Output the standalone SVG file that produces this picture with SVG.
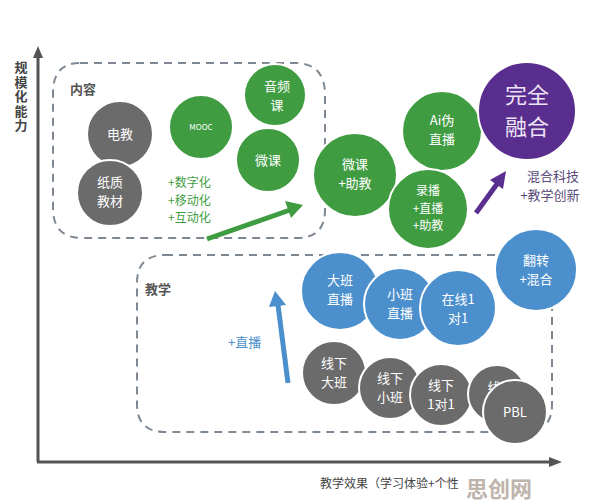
<svg xmlns="http://www.w3.org/2000/svg" width="596" height="504" viewBox="0 0 596 504">
<defs>
<style>
text{font-family:"Noto Sans CJK SC","Liberation Sans",sans-serif;}
.c{stroke:#fff;stroke-width:2;}
.g{fill:#6b6b6b;}
.gr{fill:#3f9c41;}
.b{fill:#4b8fcc;}
.p{fill:#5a2e8e;}
.t{fill:#fff;font-size:13px;text-anchor:middle;}
.s{font-size:12px;}
.box{fill:none;stroke:#7d8894;stroke-width:2;stroke-dasharray:8 6;}
.ax{stroke:#555;stroke-width:3;fill:none;}
</style>
</defs>
<rect width="596" height="504" fill="#fff"/>
<g id="axes">
<line class="ax" x1="38" y1="462" x2="38" y2="56"/>
<path d="M38,46 L43,58 L33,58 z" fill="#555"/>
<line class="ax" x1="37" y1="462" x2="550" y2="462"/>
<path d="M562,462 L549,457 L549,467 z" fill="#555"/>
<text x="21" y="61" style="writing-mode:vertical-rl;font-size:13px;letter-spacing:1.5px;font-weight:bold" fill="#444">规模化能力</text>
<text x="320" y="488" style="font-size:12px" fill="#444">教学效果（学习体验+个性</text>
<text x="466" y="497" style="font-size:22px;font-weight:bold" fill="#b9aca3" opacity="0.9">思创网</text>
</g>
<g id="content-box">
<path class="box" d="M80,63 L295,63 Q325,63 325,95 L325,210 Q325,238 297,238 L82,238 Q53,238 53,208 L53,93 Q53,63 80,63 z"/>
<text x="70" y="94" font-size="13" fill="#555" font-weight="bold">内容</text>
</g>
<g id="teach-box">
<path class="box" d="M165,255 L500,255 M552,303 L552,405 Q552,432 524,432 L165,432 Q137,432 137,404 L137,283 Q137,255 165,255"/>
<text x="145" y="294" font-size="13" fill="#555" font-weight="bold">教学</text>
</g>
<g id="connectors">
<line x1="207" y1="239" x2="290" y2="210" stroke="#3f9c41" stroke-width="5"/>
<path d="M303,205 L285,201 L291,218 z" fill="#3f9c41"/>
<line x1="476" y1="213" x2="497" y2="184" stroke="#5a2e8e" stroke-width="5"/>
<path d="M506,171 L490,180 L503,189 z" fill="#5a2e8e"/>
<line x1="288" y1="383" x2="278" y2="305" stroke="#4b8fcc" stroke-width="5"/>
<path d="M275,291 L269,307 L286,305 z" fill="#4b8fcc"/>
</g>
<g id="n-dianjiao"><circle class="c g" cx="120" cy="134" r="33"/><text class="t" x="120" y="139">电教</text></g>
<g id="n-zhizhi"><circle class="c g" cx="110" cy="193" r="33"/><text class="t" x="110" y="187">纸质</text><text class="t" x="110" y="206">教材</text></g>
<g id="n-mooc"><circle class="c gr" cx="201" cy="127" r="32"/><text class="t" x="201" y="130" style="font-size:8px">MOOC</text></g>
<g id="n-yinpin"><circle class="c gr" cx="275" cy="95" r="31"/><text class="t" x="277" y="91">音频</text><text class="t" x="277" y="110">课</text></g>
<g id="n-weike"><circle class="c gr" cx="268" cy="160" r="32"/><text class="t" x="268" y="165">微课</text></g>
<g id="n-digital"><text class="s" fill="#3f9c41"><tspan x="168" y="187">+数字化</tspan><tspan x="168" y="204.5">+移动化</tspan><tspan x="168" y="222">+互动化</tspan></text></g>
<g id="n-weikezhujiao"><circle class="c gr" cx="355" cy="175" r="42"/><text class="t" x="355" y="169">微课</text><text class="t" x="355" y="188">+助教</text></g>
<g id="n-ai"><circle class="c gr" cx="442" cy="131" r="40"/><text class="t" x="442" y="125">Ai伪</text><text class="t" x="442" y="144">直播</text></g>
<g id="n-lubo"><circle class="c gr" cx="428" cy="209" r="40"/><text class="t s" x="428" y="195">录播</text><text class="t s" x="428" y="212.5">+直播</text><text class="t s" x="428" y="230">+助教</text></g>
<g id="n-wanquan"><circle class="c p" cx="527" cy="111" r="49"/><text class="t" x="527" y="103" style="font-size:22px;fill:#ece4f5">完全</text><text class="t" x="527" y="135" style="font-size:22px;fill:#ece4f5">融合</text></g>
<g id="n-hunhe"><text font-size="13" fill="#5a4a7a" text-anchor="middle"><tspan x="553" y="181">混合科技</tspan><tspan x="550" y="200">+教学创新</tspan></text></g>
<g id="n-fanzhuan"><circle class="c b" cx="536" cy="270" r="41"/><text class="t" x="536" y="265">翻转</text><text class="t" x="536" y="284">+混合</text></g>
<g id="n-zhibo-label"><text x="228" y="347" font-size="13" fill="#4b8fcc">+直播</text></g>
<g id="n-dabanzhibo"><circle class="c b" cx="340" cy="291" r="39"/><text class="t" x="340" y="285">大班</text><text class="t" x="340" y="304">直播</text></g>
<g id="n-xiaobanzhibo"><circle class="c b" cx="400" cy="304" r="36"/><text class="t" x="400" y="299">小班</text><text class="t" x="400" y="318">直播</text></g>
<g id="n-zaixian"><circle class="c b" cx="458" cy="308" r="38"/><text class="t" x="458" y="304">在线1</text><text class="t" x="458" y="323">对1</text></g>
<g id="n-xianxiadaban"><circle class="c g" cx="334" cy="373" r="32"/><text class="t" x="334" y="368">线下</text><text class="t" x="334" y="387">大班</text></g>
<g id="n-xianxiaxiaoban"><circle class="c g" cx="390" cy="388" r="31"/><text class="t" x="390" y="383">线下</text><text class="t" x="390" y="402">小班</text></g>
<g id="n-xianxia1v1"><circle class="c g" cx="441" cy="395" r="31"/><text class="t" x="441" y="390">线下</text><text class="t" x="441" y="409">1对1</text></g>
<g id="n-xianxia-hidden"><circle class="c g" cx="497" cy="394" r="29"/><text class="t" x="494" y="392">线</text></g>
<g id="n-pbl"><circle class="c g" cx="515" cy="412" r="32"/><text class="t" x="515" y="417">PBL</text></g>
</svg>
